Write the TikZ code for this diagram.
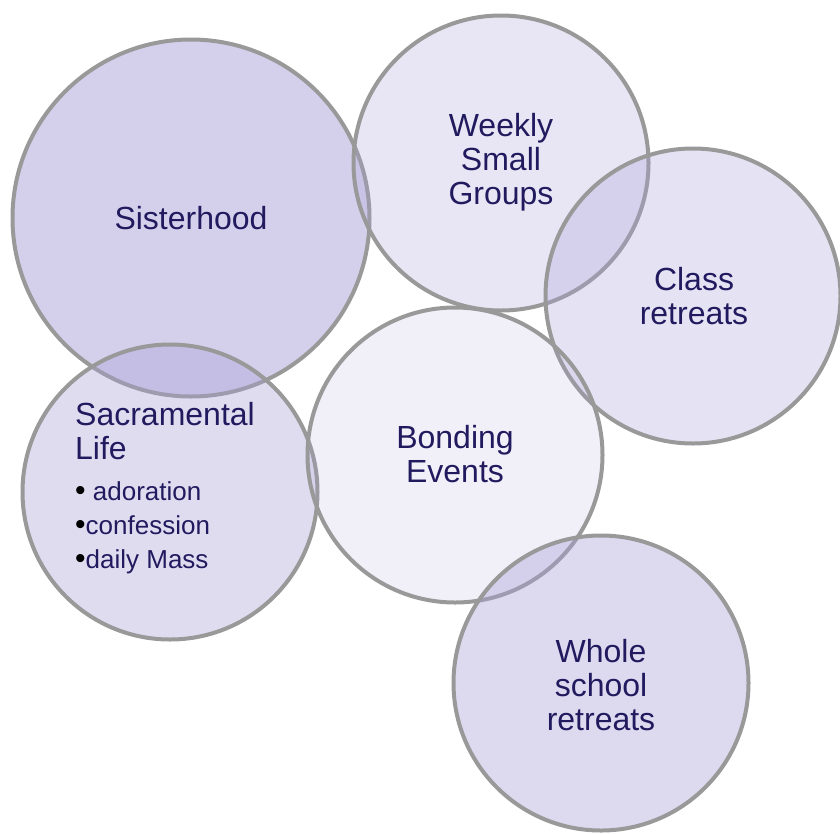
\documentclass[tikz,border=0pt]{standalone}
\usepackage{fontspec}
\setmainfont{Liberation Sans}
\definecolor{txt}{RGB}{33,26,94}
\definecolor{ring}{RGB}{153,153,153}
\definecolor{base}{RGB}{170,160,215}
\newcommand{\bdot}{\textcolor{black}{\fontsize{30}{34}\selectfont •}}
\tikzset{
  bubble/.style={circle, draw=ring, line width=4pt, fill=base, inner sep=0pt, minimum size=#1},
  lbl/.style={text=txt, font=\fontsize{32}{34}\selectfont, align=center, inner sep=0pt},
}
\begin{document}
\begin{tikzpicture}[x=1pt,y=-1pt]
\useasboundingbox (0,0) rectangle (840,833);
\node[bubble=357pt, fill opacity=0.5] (sis) at (191,218) {};
\node[bubble=295pt, fill opacity=0.27] (wee) at (501,163) {};
\node[bubble=295pt, fill opacity=0.31] (cla) at (693,296) {};
\node[bubble=295pt, fill opacity=0.37] (sac) at (170,492) {};
\node[bubble=295pt, fill opacity=0.17] (bon) at (455,455) {};
\node[bubble=295pt, fill opacity=0.4] (who) at (601,683) {};
\node[lbl] (tsis) at (191,218) {Sisterhood};
\node[lbl] (twee) at (501,162) {Weekly\\Small\\Groups};
\node[lbl] (tcla) at (694,296) {Class\\retreats};
\node[lbl] (tbon) at (455,454) {Bonding\\Events};
\node[lbl] (twho) at (601,685) {Whole\\school\\retreats};
\node[lbl, align=left, anchor=west] (tsac) at (75,431) {Sacramental\\Life};
\node[text=txt, anchor=west, inner sep=0pt, align=left, font=\fontsize{26}{34}\selectfont] (tlist) at (75,528)
  {\bdot{} adoration\\\bdot{}confession\\\bdot{}daily Mass};
\end{tikzpicture}
\end{document}
